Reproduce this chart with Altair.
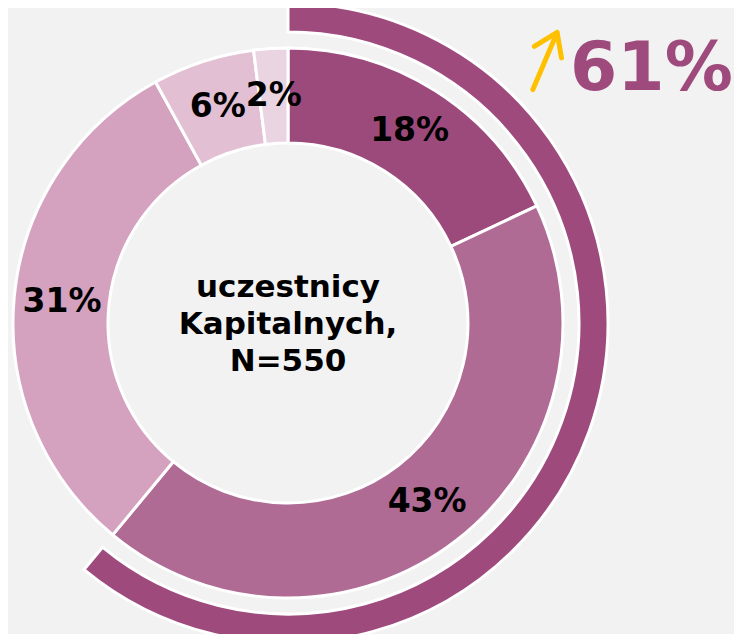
import altair as alt
import pandas as pd

# data
labels = ["18%", "43%", "31%", "6%", "2%"]
values = [18, 43, 31, 6, 2]
colors = ["#9c4a7c", "#b06b95", "#d4a1bf", "#e2bfd3", "#ebd4e1"]
outer_start = [0]
outer_end = [61]
highlight_label = "61%"
center_lines = ["uczestnicy", "Kapitalnych,", "N=550"]

df = pd.DataFrame({"idx": list(range(len(values))), "value": values,
                   "label": labels, "color": colors})
outer_df = pd.DataFrame({"start": outer_start, "end": outer_end})
one = pd.DataFrame({"a": [0]})

FONT = "DejaVu Sans"
PLUM = "#9e4a7c"
cx, cy = 280, 315
theta_scale = alt.Scale(domain=[0, 100])

base = alt.Chart(df).encode(
    theta=alt.Theta("value:Q", stack=True, scale=theta_scale),
    order=alt.Order("idx:O"),
    x=alt.value(cx),
    y=alt.value(cy),
)

arcs = base.mark_arc(radius=275, radius2=180, stroke="white", strokeWidth=3).encode(
    color=alt.Color("color:N", scale=None)
)

texts = base.mark_text(radius=227, font=FONT, fontWeight="bold", fontSize=33,
                       color="black").encode(text="label:N")

outer = alt.Chart(outer_df).mark_arc(radius=320, radius2=291, stroke="white",
                                     strokeWidth=3, color=PLUM).encode(
    theta=alt.Theta("start:Q", scale=theta_scale),
    theta2="end:Q",
    x=alt.value(cx),
    y=alt.value(cy),
)

center = alt.Chart(one).mark_text(text=center_lines, font=FONT, fontWeight="bold",
                                  fontSize=31, lineHeight=37, color="black",
                                  align="center", baseline="middle").encode(
    x=alt.value(cx), y=alt.value(280)
)

big = alt.Chart(one).mark_text(text=highlight_label, font=FONT, fontWeight="bold",
                               fontSize=68, color=PLUM, align="left",
                               baseline="alphabetic").encode(
    x=alt.value(562), y=alt.value(82)
)

arrow = alt.Chart(one).mark_point(
    shape="M0,1L0,-1M-0.5,-0.3L0,-1L0.45,-0.3",
    filled=False, stroke="#ffc000", strokeWidth=5, strokeCap="round",
    strokeJoin="round", size=3844, angle=23, opacity=1,
).encode(x=alt.value(537), y=alt.value(53))

chart = alt.layer(outer, arcs, texts, center, big, arrow).properties(
    width=726, height=626, padding=0, autosize="none", background="#f2f2f2"
).configure_view(stroke=None)

chart.save("out.html", embed_options={"renderer": "svg", "actions": False})
